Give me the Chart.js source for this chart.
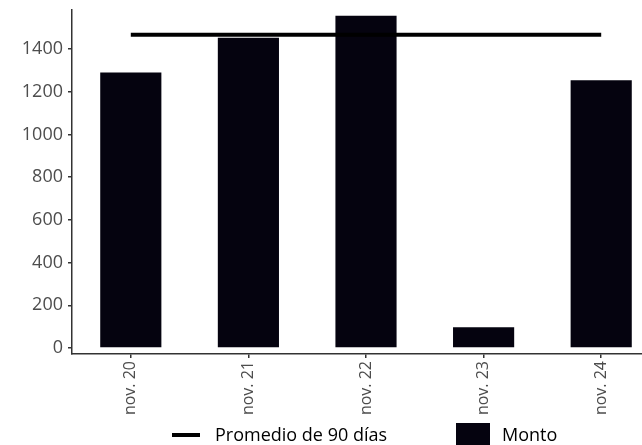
<!DOCTYPE html>
<html>
<head>
<meta charset="utf-8">
<script src="https://cdn.jsdelivr.net/npm/chart.js@4/dist/chart.umd.min.js"></script>
<style>
  html, body { margin: 0; padding: 0; background: #fff; overflow: hidden; width: 642px; height: 445px; }
  #wrap { position: relative; width: 662px; height: 418px; }
  #legend { position: absolute; left: 0; top: 0; width: 642px; height: 445px; pointer-events: none;
            font-family: "Open Sans", sans-serif; font-size: 18px; color: #000; }
  .sym-line { position: absolute; left: 172px; top: 433px; width: 28px; height: 4px; background: #000; }
  .sym-box { position: absolute; left: 456px; top: 423px; width: 34px; height: 24px; background: #05030f; }
  .lbl { position: absolute; top: 422px; line-height: 24px; white-space: nowrap; }
</style>
</head>
<body>
<div id="wrap"><canvas id="c" width="662" height="418"></canvas></div>
<div id="legend">
  <div class="sym-line"></div><div class="lbl" style="left:215px">Promedio de 90 días</div>
  <div class="sym-box"></div><div class="lbl" style="left:502px">Monto</div>
</div>
<script>
const categories = ['nov. 20', 'nov. 21', 'nov. 22', 'nov. 23', 'nov. 24'];
const monto = [1290, 1453, 1556, 97, 1254];
const promedio90 = [1467, 1467, 1467, 1467, 1467];
const yTicks = [0, 200, 400, 600, 800, 1000, 1200, 1400];

const axisColor = '#333333';
const tickLabelColor = '#4d4d4d';

new Chart(document.getElementById('c'), {
  data: {
    labels: categories,
    datasets: [
      {
        type: 'line',
        label: 'Promedio de 90 días',
        data: promedio90,
        borderColor: '#000',
        borderWidth: 4,
        pointRadius: 0,
        fill: false,
        order: 0
      },
      {
        type: 'bar',
        label: 'Monto',
        data: monto,
        backgroundColor: '#05030f',
        borderWidth: 0,
        barPercentage: 0.52,
        categoryPercentage: 1.0,
        order: 1
      }
    ]
  },
  options: {
    responsive: false,
    animation: false,
    layout: { padding: { top: 10, right: 2, left: 0, bottom: 0 } },
    plugins: { legend: { display: false }, tooltip: { enabled: false } },
    scales: {
      x: {
        type: 'category',
        offset: true,
        grid: { display: true, offset: false, drawOnChartArea: false, drawTicks: true, tickLength: 4, color: axisColor, lineWidth: 1.5 },
        border: { display: true, color: axisColor, width: 1.5 },
        ticks: {
          minRotation: 90, maxRotation: 90, padding: 3,
          color: tickLabelColor,
          font: { family: 'Open Sans', size: 16 }
        },
        afterFit: (s) => { s.height = 64; s.paddingLeft = 0; s.paddingRight = 0; }
      },
      y: {
        type: 'linear',
        min: -28,
        max: 1583,
        grid: { display: true, drawOnChartArea: false, drawTicks: true, tickLength: 4, color: axisColor, lineWidth: 1.5 },
        border: { display: true, color: axisColor, width: 1.5 },
        ticks: {
          padding: 5,
          color: tickLabelColor,
          font: { family: 'Open Sans', size: 18 },
          callback: (v) => String(v)
        },
        afterBuildTicks: (s) => { s.ticks = yTicks.map(v => ({ value: v })); },
        afterFit: (s) => { s.width = 72; s.paddingTop = 0; s.paddingBottom = 0; }
      }
    }
  }
});
</script>
</body>
</html>
